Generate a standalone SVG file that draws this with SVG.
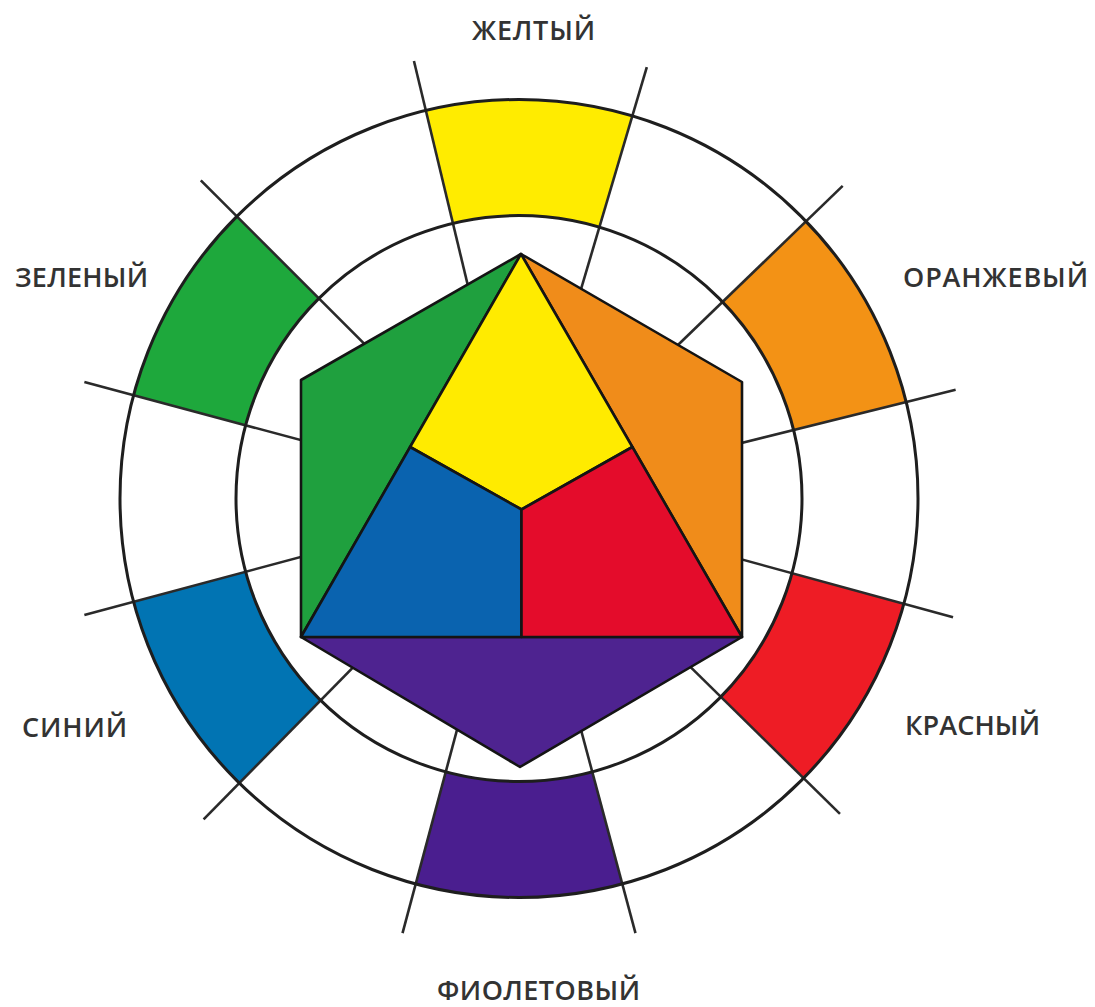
<svg xmlns="http://www.w3.org/2000/svg" width="1095" height="1007" viewBox="0 0 1095 1007">
  <style>
    .ring { fill: none; stroke: #1e1e1e; stroke-width: 3; }
    .div line { stroke: #2a2a2a; stroke-width: 2.6; stroke-linecap: butt; }
    .hex { stroke: #141414; stroke-width: 2.6; stroke-linejoin: round; }
    .lbl { font-family: "Open Sans", "Liberation Sans", sans-serif; font-weight: 600; font-size: 27px; fill: #333333; text-anchor: middle; }
  </style>
  <rect width="1095" height="1007" fill="#ffffff"/>

  <!-- outer ring colour bands -->
  <g id="band-yellow">
    <path d="M425.85,110.52 A399,399 0 0 1 632.32,115.93 L599.38,227.15 A283,283 0 0 0 452.93,223.32 Z" fill="#FFEC00"/>
  </g>
  <g id="band-orange">
    <path d="M806.02,221.33 A399,399 0 0 1 906.15,401.97 L793.59,430.04 A283,283 0 0 0 722.57,301.91 Z" fill="#F39215"/>
  </g>
  <g id="band-red">
    <path d="M903.86,603.78 A399,399 0 0 1 803.59,778.16 L720.85,696.86 A283,283 0 0 0 791.97,573.18 Z" fill="#EE1C25"/>
  </g>
  <g id="band-violet">
    <path d="M622.27,883.90 A399,399 0 0 1 415.73,883.90 L445.75,771.86 A283,283 0 0 0 592.25,771.86 Z" fill="#4A1E8F"/>
  </g>
  <g id="band-blue">
    <path d="M239.34,783.09 A399,399 0 0 1 133.60,601.77 L245.64,571.75 A283,283 0 0 0 320.64,700.35 Z" fill="#0174B3"/>
  </g>
  <g id="band-green">
    <path d="M133.60,395.23 A399,399 0 0 1 236.86,216.36 L318.89,298.39 A283,283 0 0 0 245.64,425.25 Z" fill="#1EA83C"/>
  </g>

  <!-- radial dividers -->
  <g id="connectors" class="div">
    <line x1="519" y1="498.5" x2="646.81" y2="67.03"/>
    <line x1="519" y1="498.5" x2="413.95" y2="60.93"/>
    <line x1="519" y1="498.5" x2="200.80" y2="180.30"/>
    <line x1="519" y1="498.5" x2="84.35" y2="382.04"/>
    <line x1="519" y1="498.5" x2="84.35" y2="614.97"/>
    <line x1="519" y1="498.5" x2="203.59" y2="819.46"/>
    <line x1="519" y1="498.5" x2="402.53" y2="933.17"/>
    <line x1="519" y1="498.5" x2="635.47" y2="933.17"/>
    <line x1="519" y1="498.5" x2="839.96" y2="813.91"/>
    <line x1="519" y1="498.5" x2="953.05" y2="617.24"/>
    <line x1="519" y1="498.5" x2="955.64" y2="389.64"/>
    <line x1="519" y1="498.5" x2="842.70" y2="185.90"/>
  </g>

  <!-- rings -->
  <g id="rings">
    <circle class="ring" cx="519" cy="498.5" r="399"/>
    <circle class="ring" cx="519" cy="498.5" r="283"/>
  </g>

  <!-- central hexagon -->
  <g id="hex-green"><polygon class="hex" points="301,380 521,254 301,637" fill="#1FA03E"/></g>
  <g id="hex-orange"><polygon class="hex" points="521,254 742,382 742,637" fill="#F08C1A"/></g>
  <g id="hex-violet"><polygon class="hex" points="301,637 742,637 520,767" fill="#4E2390"/></g>
  <g id="hex-yellow"><polygon class="hex" points="521,254 632.4,447 521.5,509.5 410.1,447" fill="#FFEB00"/></g>
  <g id="hex-blue"><polygon class="hex" points="410.1,447 521.5,509.5 521.5,637 301,637" fill="#0A63AF"/></g>
  <g id="hex-red"><polygon class="hex" points="521.5,509.5 632.4,447 742,637 521.5,637" fill="#E40C2B"/></g>

  <!-- labels -->
  <g id="label-yellow"><text class="lbl" x="533.5" y="40" textLength="123">ЖЕЛТЫЙ</text></g>
  <g id="label-green"><text class="lbl" x="81.5" y="287" textLength="133">ЗЕЛЕНЫЙ</text></g>
  <g id="label-orange"><text class="lbl" x="995.5" y="287" textLength="185">ОРАНЖЕВЫЙ</text></g>
  <g id="label-blue"><text class="lbl" x="74.5" y="737" textLength="105">СИНИЙ</text></g>
  <g id="label-red"><text class="lbl" x="972.5" y="735" textLength="135">КРАСНЫЙ</text></g>
  <g id="label-violet"><text class="lbl" x="538.5" y="1000" textLength="203">ФИОЛЕТОВЫЙ</text></g>
</svg>
